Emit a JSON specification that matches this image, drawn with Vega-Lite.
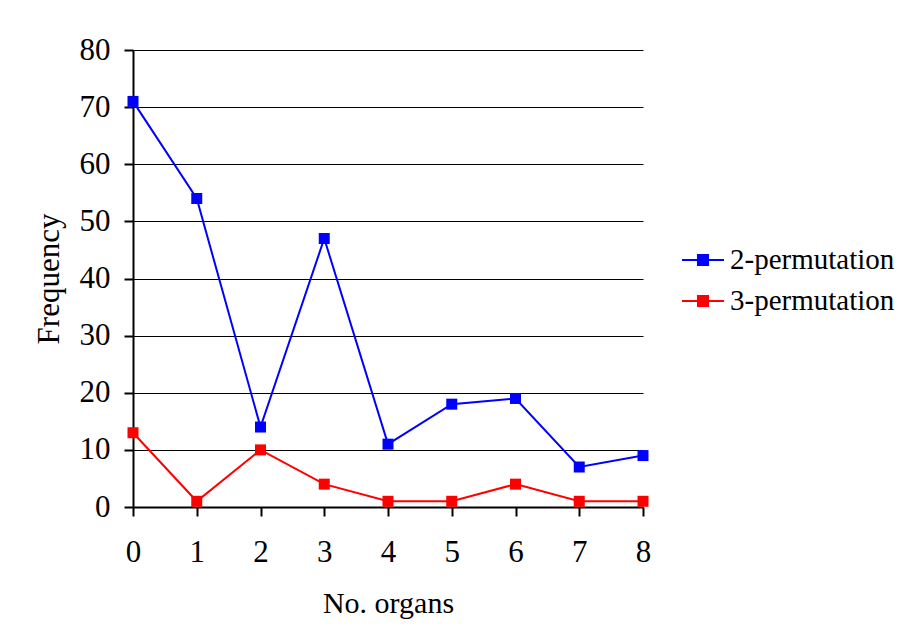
{
  "$schema": "https://vega.github.io/schema/vega-lite/v6.json",
  "autosize": "none",
  "width": 510,
  "height": 457,
  "padding": {"left": 133, "top": 50, "right": 263, "bottom": 137},
  "background": "white",
  "config": {
    "font": "Liberation Serif",
    "view": {"stroke": null}
  },
  "data": {
    "values": [
      {"organs": 0, "series": "2-permutation", "freq": 71},
      {"organs": 1, "series": "2-permutation", "freq": 54},
      {"organs": 2, "series": "2-permutation", "freq": 14},
      {"organs": 3, "series": "2-permutation", "freq": 47},
      {"organs": 4, "series": "2-permutation", "freq": 11},
      {"organs": 5, "series": "2-permutation", "freq": 18},
      {"organs": 6, "series": "2-permutation", "freq": 19},
      {"organs": 7, "series": "2-permutation", "freq": 7},
      {"organs": 8, "series": "2-permutation", "freq": 9},
      {"organs": 0, "series": "3-permutation", "freq": 13},
      {"organs": 1, "series": "3-permutation", "freq": 1},
      {"organs": 2, "series": "3-permutation", "freq": 10},
      {"organs": 3, "series": "3-permutation", "freq": 4},
      {"organs": 4, "series": "3-permutation", "freq": 1},
      {"organs": 5, "series": "3-permutation", "freq": 1},
      {"organs": 6, "series": "3-permutation", "freq": 4},
      {"organs": 7, "series": "3-permutation", "freq": 1},
      {"organs": 8, "series": "3-permutation", "freq": 1}
    ]
  },
  "encoding": {
    "x": {
      "field": "organs",
      "type": "quantitative",
      "scale": {"domain": [0, 8], "nice": false},
      "axis": {
        "title": "No. organs",
        "values": [0, 1, 2, 3, 4, 5, 6, 7, 8],
        "format": "d",
        "grid": false,
        "labelFont": "Liberation Serif",
        "titleFont": "Liberation Serif",
        "labelFontSize": 31,
        "titleFontSize": 30,
        "titleFontWeight": "normal",
        "labelColor": "black",
        "titleColor": "black",
        "domainColor": "black",
        "domainWidth": 2,
        "tickColor": "black",
        "tickWidth": 2,
        "tickSize": 9,
        "labelPadding": 21,
        "titlePadding": 21,
        "labelFlush": false
      }
    },
    "y": {
      "field": "freq",
      "type": "quantitative",
      "scale": {"domain": [0, 80], "nice": false},
      "axis": {
        "title": "Frequency",
        "values": [0, 10, 20, 30, 40, 50, 60, 70, 80],
        "grid": true,
        "gridColor": "black",
        "gridWidth": 1,
        "gridOpacity": 1,
        "labelFont": "Liberation Serif",
        "titleFont": "Liberation Serif",
        "labelFontSize": 31,
        "titleFontSize": 31,
        "titleFontWeight": "normal",
        "labelColor": "black",
        "titleColor": "black",
        "domainColor": "black",
        "domainWidth": 2,
        "tickColor": "black",
        "tickWidth": 2,
        "tickSize": 9,
        "labelPadding": 14,
        "titlePadding": 14,
        "labelFlush": false
      }
    },
    "color": {
      "field": "series",
      "type": "nominal",
      "scale": {"domain": ["2-permutation", "3-permutation"], "range": ["#0000FF", "#FF0000"]},
      "legend": {
        "title": null,
        "orient": "none",
        "legendX": 548,
        "legendY": 188,
        "padding": 0,
        "labelFont": "Liberation Serif",
        "labelFontSize": 29,
        "labelColor": "black",
        "labelLimit": 400,
        "symbolType": "M-1,0L1,0M-0.24,-0.24L0.24,-0.24L0.24,0.24L-0.24,0.24Z",
        "symbolSize": 1764,
        "symbolStrokeWidth": 2,
        "rowPadding": 4,
        "labelOffset": 5,
        "encode": {
          "symbols": {"update": {"fill": {"scale": "color", "field": "value"}, "stroke": {"scale": "color", "field": "value"}, "opacity": {"value": 1}}}
        }
      }
    }
  },
  "layer": [
    {"mark": {"type": "line", "strokeWidth": 2}},
    {"mark": {"type": "point", "shape": "square", "filled": true, "size": 121, "opacity": 1}}
  ]
}
